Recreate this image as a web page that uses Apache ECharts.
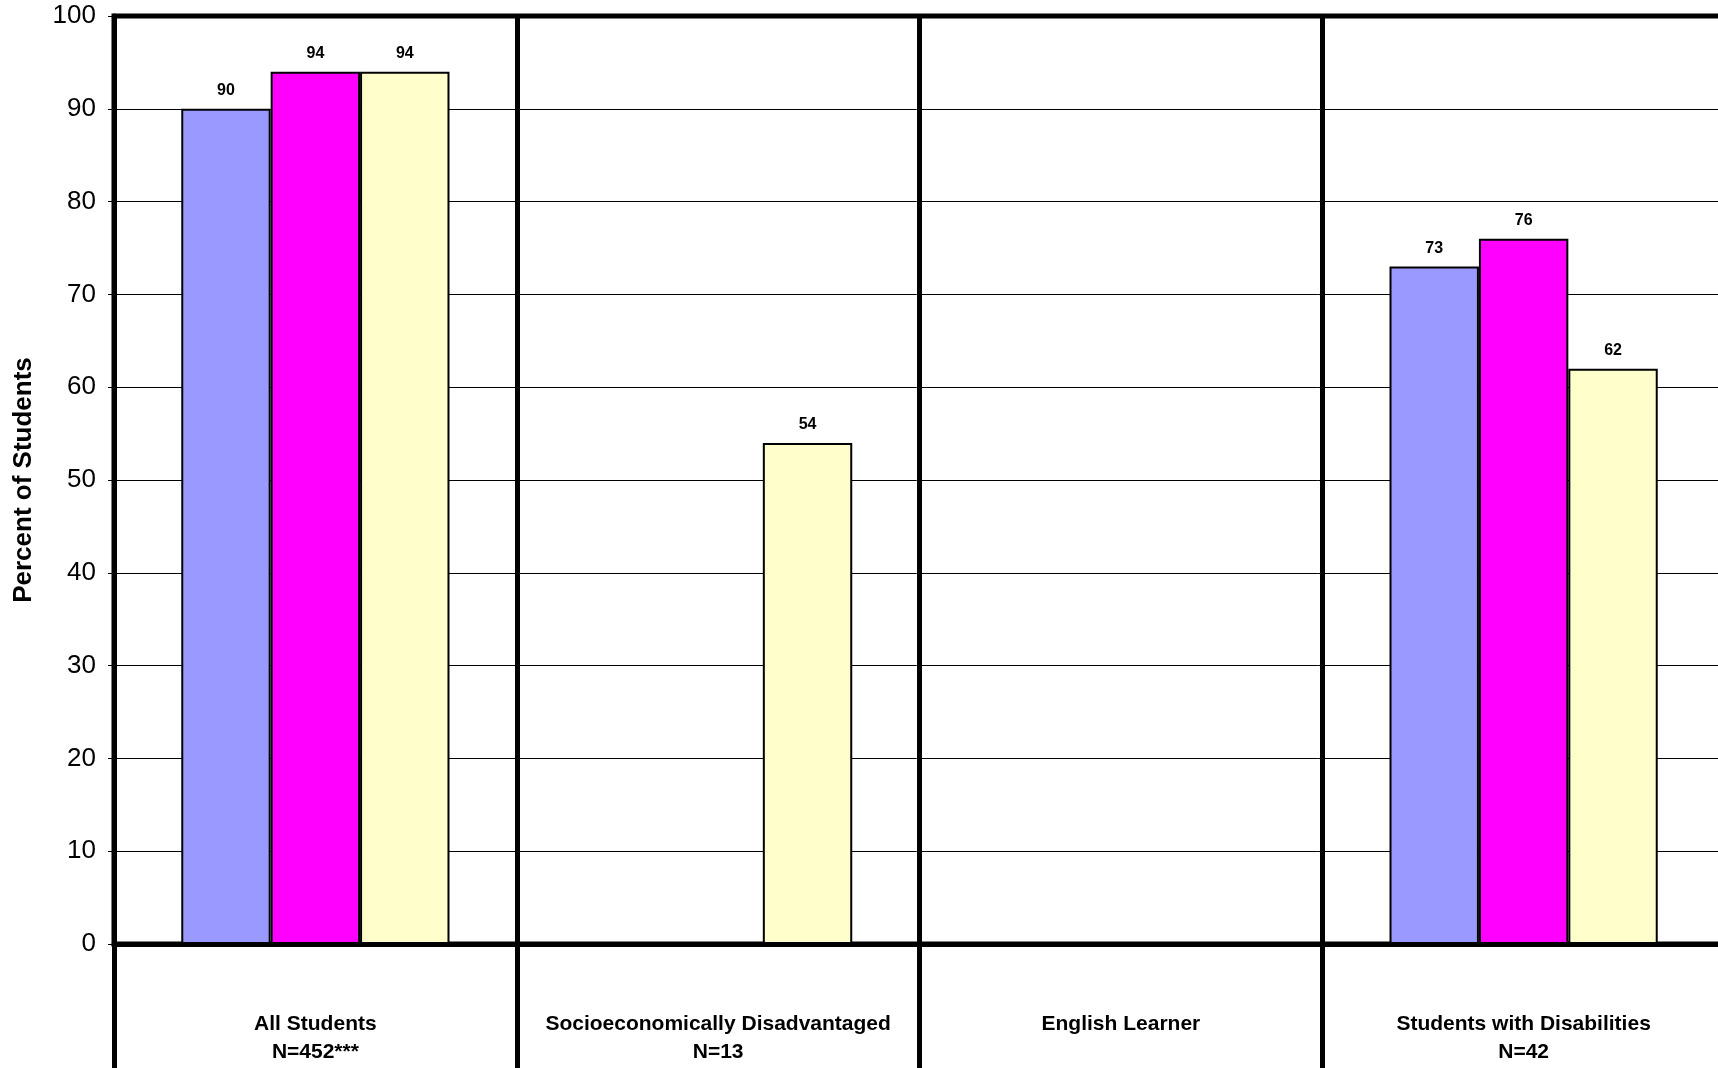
<!DOCTYPE html>
<html><head><meta charset="utf-8">
<script src="https://cdn.jsdelivr.net/npm/echarts@6/dist/echarts.min.js"></script>
<style>html,body{margin:0;padding:0;background:#fff}#c{width:1718px;height:1068px}</style>
</head><body><div id="c"></div>
<script>
const categories = ["All Students\nN=452***", "Socioeconomically Disadvantaged\nN=13", "English Learner", "Students with Disabilities\nN=42"];
const series1 = [90, null, null, 73];
const series2 = [94, null, null, 76];
const series3 = [94, 54, null, 62];
const yTicks = [0, 10, 20, 30, 40, 50, 60, 70, 80, 90, 100];
const colors = ["#9999FF", "#FF00FF", "#FFFFCC"];
const FONT = "'Liberation Sans', Arial, sans-serif";

const chart = echarts.init(document.getElementById('c'));
function mk(data, color) {
  return {
    type: 'bar', data: data, barGap: '0%', barCategoryGap: '33.4%',
    itemStyle: { color: color, borderColor: '#000', borderWidth: 2 },
    label: { show: true, position: 'top', distance: 10, fontFamily: FONT, fontWeight: 'bold', fontSize: 16, color: '#000',
      formatter: p => (p.value == null ? '' : p.value) },
    animation: false
  };
}
chart.setOption({
  animation: false,
  grid: { left: 114, top: 16, right: -7, bottom: 124, containLabel: false, outerBoundsMode: 'none',
    show: true, borderColor: '#000', borderWidth: 5, backgroundColor: 'transparent' },
  xAxis: {
    type: 'category', data: categories,
    axisLine: { show: true, lineStyle: { color: '#000', width: 5 } },
    axisTick: { show: true, length: 130, lineStyle: { color: '#000', width: 5 } },
    splitLine: { show: true, lineStyle: { color: '#000', width: 5 } },
    axisLabel: { margin: 66, fontFamily: FONT, fontWeight: 'bold', fontSize: 21, color: '#000', lineHeight: 28, interval: 0 }
  },
  yAxis: {
    type: 'value', min: 0, max: 100, interval: 10,
    name: 'Percent of Students', nameLocation: 'middle', nameGap: 77,
    nameTextStyle: { fontFamily: FONT, fontWeight: 'bold', fontSize: 26, color: '#000' },
    axisLine: { show: true, lineStyle: { color: '#000', width: 5 } },
    axisTick: { show: true, length: 6, lineStyle: { color: '#000', width: 1 } },
    splitLine: { show: true, lineStyle: { color: '#000', width: 1 } },
    axisLabel: { margin: 18, fontFamily: FONT, fontSize: 26, color: '#000',
      formatter: v => (yTicks.indexOf(v) >= 0 ? String(v) : '') }
  },
  series: [mk(series1, colors[0]), mk(series2, colors[1]), mk(series3, colors[2])]
});
</script></body></html>
